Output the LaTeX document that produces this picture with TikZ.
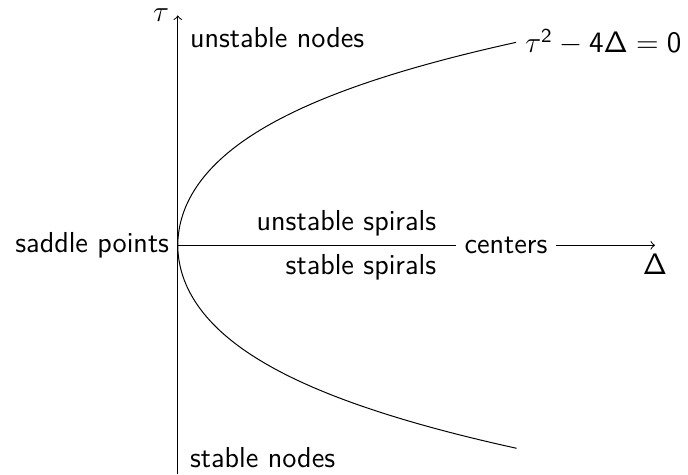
\documentclass[tikz,border=0pt]{standalone}
\usepackage{amsmath}
\usepackage{tikz}
\usetikzlibrary{arrows.meta, positioning, calc}

\begin{document}
\begin{tikzpicture}[
					font=\sffamily\fontsize{11.7pt}{14pt}\selectfont,
					axis/.style={->, >=to},
					region/.style={inner sep=0.3333em}
					]
					\useasboundingbox (-2.53,-3.26) rectangle (7.26,3.49);
					% --- axes ---
					\coordinate (origin) at (0,0);
					\coordinate (taxis) at (0,3.27);
					\coordinate (bottom) at (0,-3.26);
					\coordinate (daxis) at (6.79,0);
					\node[region] (centers) at (4.67,0) {centers};
					\draw (bottom) -- (origin);
					\draw[axis] (origin) -- (taxis) node[left] (tau) {$\tau$};
					\draw (origin) -- (centers.west);
					\draw[axis] (centers.east) -- (daxis);
					\node[below=0pt of daxis] (delta) {$\mathsf{\Delta}$};
					
					% --- boundary curve tau^2 = 4 Delta ---
					\draw plot[domain=-2.889:2.889, samples=100, smooth] ({0.369*\x*\x+0.025*\x*\x*\x*\x},\x);
					\coordinate (upper) at (4.82,2.889);
					\node[right] (curve) at (upper) {$\tau^{\mathsf{2}} - \mathsf{4\Delta} = \mathsf{0}$};
					
					% --- regions ---
					\coordinate (spirals) at (3.80,0);
					\node[left] (saddle) at (origin) {saddle points};
					\node[right] (unodes) at (0.05,2.95) {unstable nodes};
					\node[right] (snodes) at (0.05,-3.02) {stable nodes};
					\node[above left] (uspiral) at (spirals) {unstable spirals};
					\node[below left] (sspiral) at (spirals) {stable spirals};
				\end{tikzpicture}
\end{document}
